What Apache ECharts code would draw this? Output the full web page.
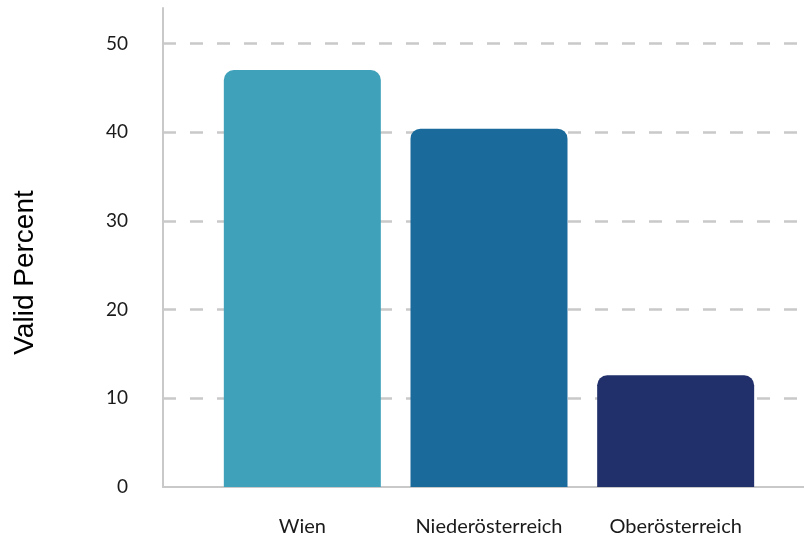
<!DOCTYPE html>
<html>
<head>
<meta charset="utf-8">
<script src="https://cdn.jsdelivr.net/npm/echarts@6/dist/echarts.min.js"></script>
<style>
  html, body { margin: 0; padding: 0; background: #fff; }
  #chart { width: 804px; height: 541px; }
</style>
</head>
<body>
<div id="chart"></div>
<script>
// Regions and their valid percentages
const regions = ['Wien', 'Niederösterreich', 'Oberösterreich'];
const validPercent = [47.0, 40.4, 12.6];
const barColors = ['#3FA2BA', '#1A6B9B', '#21306A'];
const yTicks = [0, 10, 20, 30, 40, 50];

const yMax = 54;
const gridLine = '#c9c9c9';

const chart = echarts.init(document.getElementById('chart'), null, { renderer: 'canvas' });

chart.setOption({
  animation: false,
  backgroundColor: '#ffffff',
  grid: [
    // frame grid: axis lines, dashed guides and the y scale
    { left: 163, right: 0, top: 8, bottom: 54 },
    // bar grid: three equal category bands
    { left: 209, right: 35, top: 8, bottom: 54 }
  ],
  xAxis: [
    {
      gridIndex: 0, type: 'value', min: 0, max: 1,
      axisLine: { show: true, onZero: false, lineStyle: { color: gridLine, width: 2 } },
      axisTick: { show: false }, axisLabel: { show: false }, splitLine: { show: false }
    },
    {
      gridIndex: 1, type: 'category', data: regions,
      axisLine: { show: false }, axisTick: { show: false }, splitLine: { show: false },
      axisLabel: { interval: 0, hideOverlap: false, margin: 30, color: '#1a1a1a', fontFamily: 'Lato', fontSize: 20 }
    }
  ],
  yAxis: [
    {
      gridIndex: 0, type: 'value', min: 0, max: yMax, interval: 10,
      name: 'Valid Percent', nameLocation: 'middle', nameGap: 124, nameRotate: 90,
      nameTextStyle: { fontFamily: 'Liberation Sans', fontSize: 28, color: '#000', padding: [0, 50, 0, 0] },
      axisLine: { show: true, lineStyle: { color: gridLine, width: 2 } },
      axisTick: { show: false },
      axisLabel: {
        margin: 35, color: '#1a1a1a', fontFamily: 'Lato', fontSize: 19,
        showMaxLabel: false,
        formatter: v => (yTicks.indexOf(v) >= 0 ? String(v) : '')
      },
      splitLine: {
        show: true, showMinLine: false, showMaxLine: false,
        lineStyle: { color: gridLine, width: 2.5, type: [13, 14] }
      }
    },
    { gridIndex: 1, type: 'value', min: 0, max: yMax, show: false }
  ],
  series: [{
    type: 'bar',
    xAxisIndex: 1, yAxisIndex: 1,
    barWidth: 157,
    data: validPercent.map((v, i) => ({
      value: v,
      itemStyle: { color: barColors[i], borderRadius: [10, 10, 0, 0] }
    }))
  }]
});
</script>
</body>
</html>
